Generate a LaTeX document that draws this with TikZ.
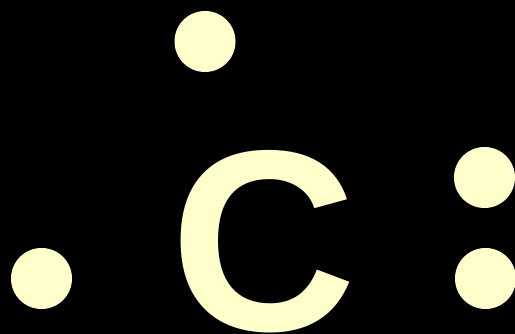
\documentclass[tikz,border=0pt]{standalone}
\usepackage{fontspec}
\setmainfont{Liberation Sans}
\usepackage{xcolor}
\usepackage{tikz}
\definecolor{dotyellow}{HTML}{FFFFCC}

\begin{document}
\begin{tikzpicture}[
  x=1pt, y=1pt,
  dot/.style={circle, fill=dotyellow, inner sep=0pt, minimum size=61pt},
  sym/.style={text=dotyellow, inner sep=0pt, anchor=base,
              font=\fontsize{258}{258}\selectfont\bfseries}
]
\fill[black] (0,0) rectangle (515,334);
\useasboundingbox (0,0) rectangle (515,334);
\node[sym] (carbon) at (264,3) {C};
\node[dot] (top) at (205,292.5) {};
\node[dot] (left) at (41.5,55.5) {};
\node[dot] (rtop) at (484.5,156.5) {};
\node[dot] (rbot) at (485.5,55.5) {};
\end{tikzpicture}
\end{document}
